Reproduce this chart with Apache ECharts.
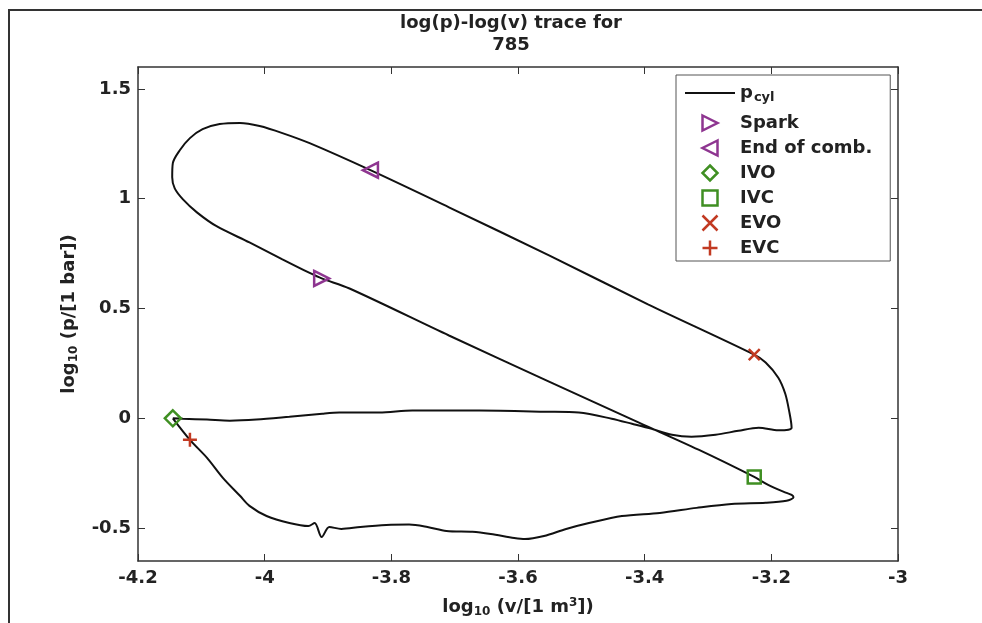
<!DOCTYPE html>
<html>
<head>
<meta charset="utf-8">
<script src="https://cdn.jsdelivr.net/npm/echarts@6/dist/echarts.min.js"></script>
<style>
html,body{margin:0;padding:0;background:#fff;}
#c{width:982px;height:623px;}
</style>
</head>
<body>
<div id="c"></div>
<script>
// ---- data ----
const traceX = [-4.145,-4.118,-4.091,-4.066,-4.039,-4.024,-3.997,-3.961,-3.931,-3.921,-3.910,-3.898,-3.879,-3.849,-3.808,-3.772,-3.743,-3.713,-3.672,-3.643,-3.606,-3.589,-3.559,-3.524,-3.488,-3.436,-3.376,-3.318,-3.263,-3.209,-3.176,-3.165,-3.168,-3.176,-3.205,-3.227,-3.315,-3.409,-3.551,-3.709,-3.866,-3.910,-3.929,-3.972,-4.024,-4.076,-4.107,-4.129,-4.142,-4.146,-4.145,-4.134,-4.118,-4.098,-4.071,-4.039,-4.008,-3.972,-3.929,-3.833,-3.709,-3.551,-3.394,-3.227,-3.209,-3.189,-3.178,-3.172,-3.168,-3.173,-3.189,-3.220,-3.252,-3.288,-3.326,-3.357,-3.389,-3.420,-3.452,-3.504,-3.556,-3.661,-3.767,-3.819,-3.882,-3.909,-3.961,-4.013,-4.055,-4.091,-4.129,-4.145];
const traceY = [0.000,-0.098,-0.180,-0.271,-0.353,-0.399,-0.445,-0.477,-0.491,-0.477,-0.541,-0.495,-0.504,-0.495,-0.486,-0.484,-0.495,-0.513,-0.517,-0.527,-0.545,-0.550,-0.536,-0.504,-0.477,-0.445,-0.431,-0.408,-0.390,-0.385,-0.376,-0.360,-0.349,-0.340,-0.303,-0.267,-0.143,-0.020,0.167,0.377,0.591,0.637,0.662,0.724,0.801,0.875,0.938,0.997,1.047,1.098,1.162,1.221,1.276,1.317,1.340,1.345,1.331,1.299,1.253,1.130,0.961,0.742,0.518,0.290,0.254,0.185,0.112,0.035,-0.043,-0.052,-0.055,-0.043,-0.057,-0.075,-0.084,-0.075,-0.048,-0.025,-0.002,0.026,0.030,0.035,0.035,0.026,0.026,0.021,0.007,-0.006,-0.011,-0.006,-0.002,0.000];
const markerNames = ['Spark','End of comb.','IVO','IVC','EVO','EVC'];
const markerX = [-3.910,-3.833,-4.145,-3.227,-3.227,-4.118];
const markerY = [0.637,1.130,0.000,-0.267,0.290,-0.098];
const xTicks = [-4.2,-4,-3.8,-3.6,-3.4,-3.2,-3];
const yTicks = [-0.5,0,0.5,1,1.5];
const titleLines = ['log(p)-log(v) trace for','785'];

// ---- styling ----
const FONT = 'DejaVu Sans';
const TXT = '#222';
const AX = '#333';
const PURPLE = '#8e3590', GREEN = '#3f8f22', RED = '#c23a22';
const markerStyles = [
  {symbol:'path://M0,0L10,5L0,10Z', color:PURPLE, size:15},
  {symbol:'path://M10,0L0,5L10,10Z', color:PURPLE, size:15},
  {symbol:'path://M5,0L10,5L5,10L0,5Z', color:GREEN, size:16},
  {symbol:'path://M0,0H10V10H0Z', color:GREEN, size:13},
  {symbol:'path://M0,0L10,10M10,0L0,10', color:RED, size:11},
  {symbol:'path://M5,0L5,10M0,5L10,5', color:RED, size:14}
];

const trace = traceX.map((x,i)=>[x, traceY[i]]);
const fmt = v => String(Math.round(v*10)/10);
const labelStyle = {fontFamily:FONT, fontWeight:'bold', fontSize:18, color:TXT};
const nameRich = {
  n:{fontFamily:FONT, fontWeight:'bold', fontSize:18, color:TXT},
  s:{fontFamily:FONT, fontWeight:'bold', fontSize:12, color:TXT, padding:[9,0,0,0]},
  u:{fontFamily:FONT, fontWeight:'bold', fontSize:12, color:TXT, padding:[0,0,9,0]}
};

const chart = echarts.init(document.getElementById('c'));
const baseX = {
  type:'value', min:xTicks[0], max:xTicks[xTicks.length-1], interval:0.2,
  axisLine:{show:true, onZero:false, lineStyle:{color:AX, width:1.5}},
  axisTick:{show:true, inside:true, length:7, lineStyle:{color:AX, width:1}},
  splitLine:{show:false}
};
const baseY = {
  type:'value', min:-0.65, max:1.6,
  axisLine:{show:true, onZero:false, lineStyle:{color:AX, width:1.5}},
  axisTick:{show:true, inside:true, length:7, customValues:yTicks, lineStyle:{color:AX, width:1}},
  splitLine:{show:false}
};

const series = [{
  name:'pcyl', type:'line', data:trace, symbol:'none', showSymbol:false,
  smooth:0.3, lineStyle:{color:'#111', width:2}, itemStyle:{color:'#111'}, z:2
}];
markerNames.forEach((n,i)=>{
  const st = markerStyles[i];
  series.push({
    name:n, type:'scatter', data:[[markerX[i], markerY[i]]],
    symbol:st.symbol, symbolSize:st.size, z:3,
    itemStyle:{color:'rgba(0,0,0,0)', borderColor:st.color, borderWidth:2.5, opacity:1}
  });
});

chart.setOption({
  backgroundColor:'#fff',
  animation:false,
  title:{
    text:titleLines.join('\n'), left:511, top:12, textAlign:'center', padding:0,
    textStyle:{fontFamily:FONT, fontWeight:'bold', fontSize:18, lineHeight:22, color:TXT}
  },
  grid:{left:138, right:84, top:67, bottom:62, containLabel:false},
  xAxis:[
    Object.assign({}, baseX, {
      position:'bottom',
      name:'{n|log}{s|10}{n| (v/[1 m}{u|3}{n|])}', nameLocation:'middle', nameGap:36,
      nameTextStyle:{rich:nameRich},
      axisLabel:Object.assign({margin:8, formatter:fmt}, labelStyle)
    }),
    Object.assign({}, baseX, {position:'top', axisLabel:{show:false}})
  ],
  yAxis:[
    Object.assign({}, baseY, {
      position:'left',
      name:'{n|log}{s|10}{n| (p/[1 bar])}', nameLocation:'middle', nameGap:58, nameRotate:90,
      nameTextStyle:{rich:nameRich},
      axisLabel:Object.assign({margin:7, customValues:yTicks, formatter:v=>String(v)}, labelStyle)
    }),
    Object.assign({}, baseY, {position:'right', axisLabel:{show:false}})
  ],
  legend:{
    orient:'vertical', left:676, top:75, padding:[3,18,3,9], itemGap:5,
    itemWidth:50, itemHeight:15, backgroundColor:'#fff', borderColor:'#555', borderWidth:1,
    itemStyle:{borderWidth:2.5, opacity:1},
    textStyle:Object.assign({lineHeight:20, rich:{
      p:{fontFamily:FONT, fontWeight:'bold', fontSize:18, color:TXT, lineHeight:30},
      c:{fontFamily:FONT, fontWeight:'bold', fontSize:13, color:TXT, padding:[10,0,0,1]}
    }}, labelStyle),
    formatter:name => name === 'pcyl' ? '{p|p}{c|cyl}' : name,
    data:[{name:'pcyl', icon:'path://M0,0H50V2H0Z', itemStyle:{borderWidth:0}}].concat(markerNames)
  },
  graphic:[{
    type:'polyline', silent:true,
    shape:{points:[[9,623],[9,10],[982,10]]},
    style:{stroke:'#333', lineWidth:2, fill:null}
  }],
  series:series
});
</script>
</body>
</html>
